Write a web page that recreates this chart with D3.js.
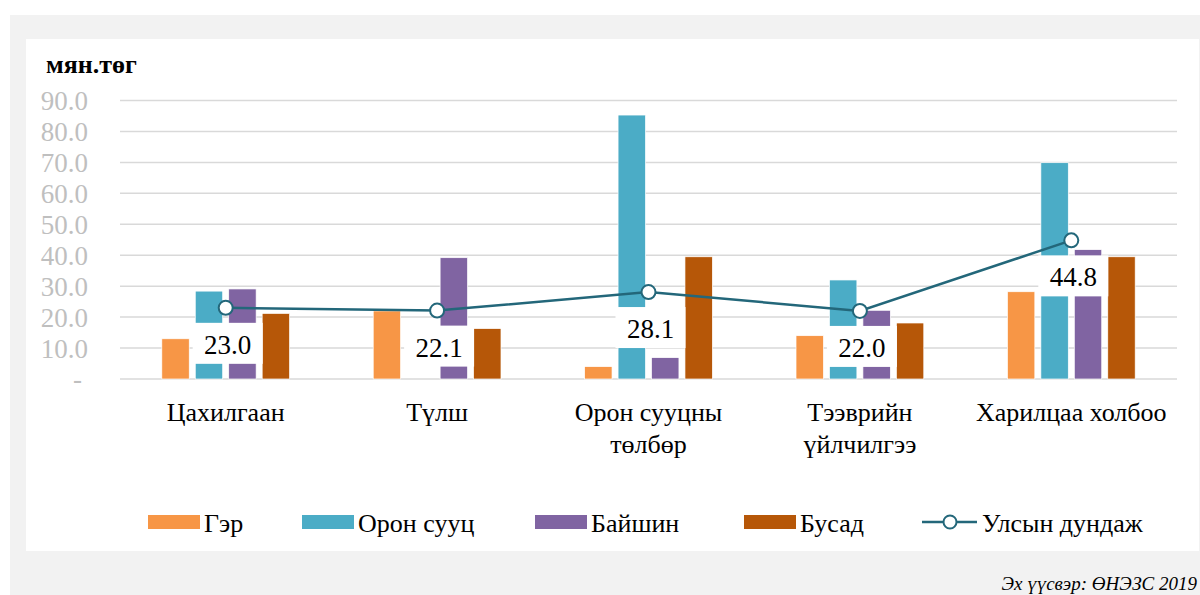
<!DOCTYPE html>
<html>
<head>
<meta charset="utf-8">
<script src="https://cdn.jsdelivr.net/npm/d3@7"></script>
<style>
  body { margin: 0; background: #fff; }
  svg text { font-family: "Liberation Serif", "Times New Roman", Times, "DejaVu Serif", serif; }
</style>
</head>
<body>
<svg id="chart" width="1200" height="595"></svg>
<script>
// data
var categories = [["Цахилгаан"], ["Түлш"], ["Орон сууцны", "төлбөр"], ["Тээврийн", "үйлчилгээ"], ["Харилцаа холбоо"]];
var seriesNames = ["Гэр", "Орон сууц", "Байшин", "Бусад"];
var ger      = [13.0, 22.0, 4.0, 14.0, 28.2];
var oronSuuts = [28.4, 0.0, 85.3, 32.0, 69.9];
var baishin  = [29.1, 39.2, 6.9, 22.2, 41.8];
var busad    = [21.2, 16.3, 39.5, 18.1, 39.5];
var average  = [23.0, 22.1, 28.1, 22.0, 44.8];
var avgName = "Улсын дундаж";
var yTicks = [0, 10, 20, 30, 40, 50, 60, 70, 80, 90];
var colors = ["#f79646", "#4bacc6", "#8064a2", "#b65708"];
var lineColor = "#23677a";

var series = [ger, oronSuuts, baishin, busad];

var svg = d3.select("#chart");

// background panels
svg.append("rect").attr("x", 10).attr("y", 15).attr("width", 1190).attr("height", 580).attr("fill", "#f2f2f2");
svg.append("rect").attr("x", 26).attr("y", 39).attr("width", 1173).attr("height", 512).attr("fill", "#fff");

var x0 = d3.scaleBand().domain(d3.range(categories.length)).range([120, 1177]);
var x1 = d3.scaleBand().domain(d3.range(series.length)).range([0, x0.bandwidth()])
    .paddingInner(0.18).paddingOuter(1.25);
var y = d3.scaleLinear().domain([0, 90]).range([379, 100.5]);

// gridlines
svg.append("g").selectAll("line")
    .data(yTicks).enter().append("line")
    .attr("x1", 120).attr("x2", 1177)
    .attr("y1", function(d) { return y(d); })
    .attr("y2", function(d) { return y(d); })
    .attr("stroke", "#d9d9d9").attr("stroke-width", 1.5);

// y tick labels
svg.append("g").selectAll("text")
    .data(yTicks).enter().append("text")
    .attr("x", function(d) { return d === 0 ? 82 : 88; })
    .attr("y", function(d) { return y(d); })
    .attr("dy", "0.35em")
    .attr("text-anchor", "end")
    .attr("fill", "#bfbfbf")
    .style("font-size", "27px")
    .text(function(d) { return d === 0 ? "-" : d.toFixed(1); });

// unit label
svg.append("text").attr("x", 46).attr("y", 73)
    .style("font-size", "26px").style("font-weight", "bold")
    .text("мян.төг");

// bars
var groups = svg.append("g").selectAll("g")
    .data(series).enter().append("g")
    .attr("fill", function(d, i) { return colors[i]; });

groups.each(function(vals, si) {
    d3.select(this).selectAll("rect")
        .data(vals).enter().append("rect")
        .attr("x", function(d, ci) { return x0(ci) + x1(si); })
        .attr("width", x1.bandwidth())
        .attr("y", function(d) { return y(d); })
        .attr("height", function(d) { return y(0) - y(d); })
        .attr("stroke", "#fff").attr("stroke-width", 0.7);
});

// average line
var cx = function(i) { return x0(i) + x0.bandwidth() / 2; };
var line = d3.line().x(function(d, i) { return cx(i); }).y(function(d) { return y(d); });
svg.append("path").datum(average)
    .attr("d", line).attr("fill", "none")
    .attr("stroke", lineColor).attr("stroke-width", 2.5);

// data labels (white boxes below markers)
var labels = svg.append("g").selectAll("g")
    .data(average).enter().append("g")
    .attr("transform", function(d, i) { return "translate(" + (cx(i) + 2) + "," + (y(d) + 15) + ")"; });
labels.append("rect")
    .attr("x", -35).attr("y", 0).attr("width", 70).attr("height", 41)
    .attr("fill", "#fff");
labels.append("text")
    .attr("x", 0).attr("y", 31)
    .attr("text-anchor", "middle")
    .style("font-size", "27px")
    .text(function(d) { return d.toFixed(1); });

svg.append("g").selectAll("circle")
    .data(average).enter().append("circle")
    .attr("cx", function(d, i) { return cx(i); })
    .attr("cy", function(d) { return y(d); })
    .attr("r", 7)
    .attr("fill", "#fff").attr("stroke", lineColor).attr("stroke-width", 2);

// category labels
var catText = svg.append("g").selectAll("text")
    .data(categories).enter().append("text")
    .attr("text-anchor", "middle")
    .style("font-size", "26px");
catText.selectAll("tspan")
    .data(function(d, i) { return d.map(function(t) { return { t: t, i: i }; }); })
    .enter().append("tspan")
    .attr("x", function(d) { return cx(d.i); })
    .attr("y", function(d, j) { return 421 + j * 32; })
    .text(function(d) { return d.t; });

// legend
var legendX = [148, 302, 535, 744];
var leg = svg.append("g");
seriesNames.forEach(function(name, i) {
    leg.append("rect").attr("x", legendX[i]).attr("y", 515).attr("width", 52).attr("height", 14).attr("fill", colors[i]);
    leg.append("text").attr("x", legendX[i] + 56).attr("y", 532).style("font-size", "26px").text(name);
});
leg.append("line").attr("x1", 922).attr("x2", 977).attr("y1", 522).attr("y2", 522)
    .attr("stroke", lineColor).attr("stroke-width", 2.5);
leg.append("circle").attr("cx", 950).attr("cy", 522).attr("r", 6.5)
    .attr("fill", "#fff").attr("stroke", lineColor).attr("stroke-width", 2);
leg.append("text").attr("x", 982).attr("y", 532).style("font-size", "26px").text(avgName);

// source note
svg.append("text").attr("x", 1197).attr("y", 590)
    .attr("text-anchor", "end")
    .style("font-size", "19px").style("font-style", "italic")
    .text("Эх үүсвэр: ӨНЭЗС 2019");
</script>
</body>
</html>
